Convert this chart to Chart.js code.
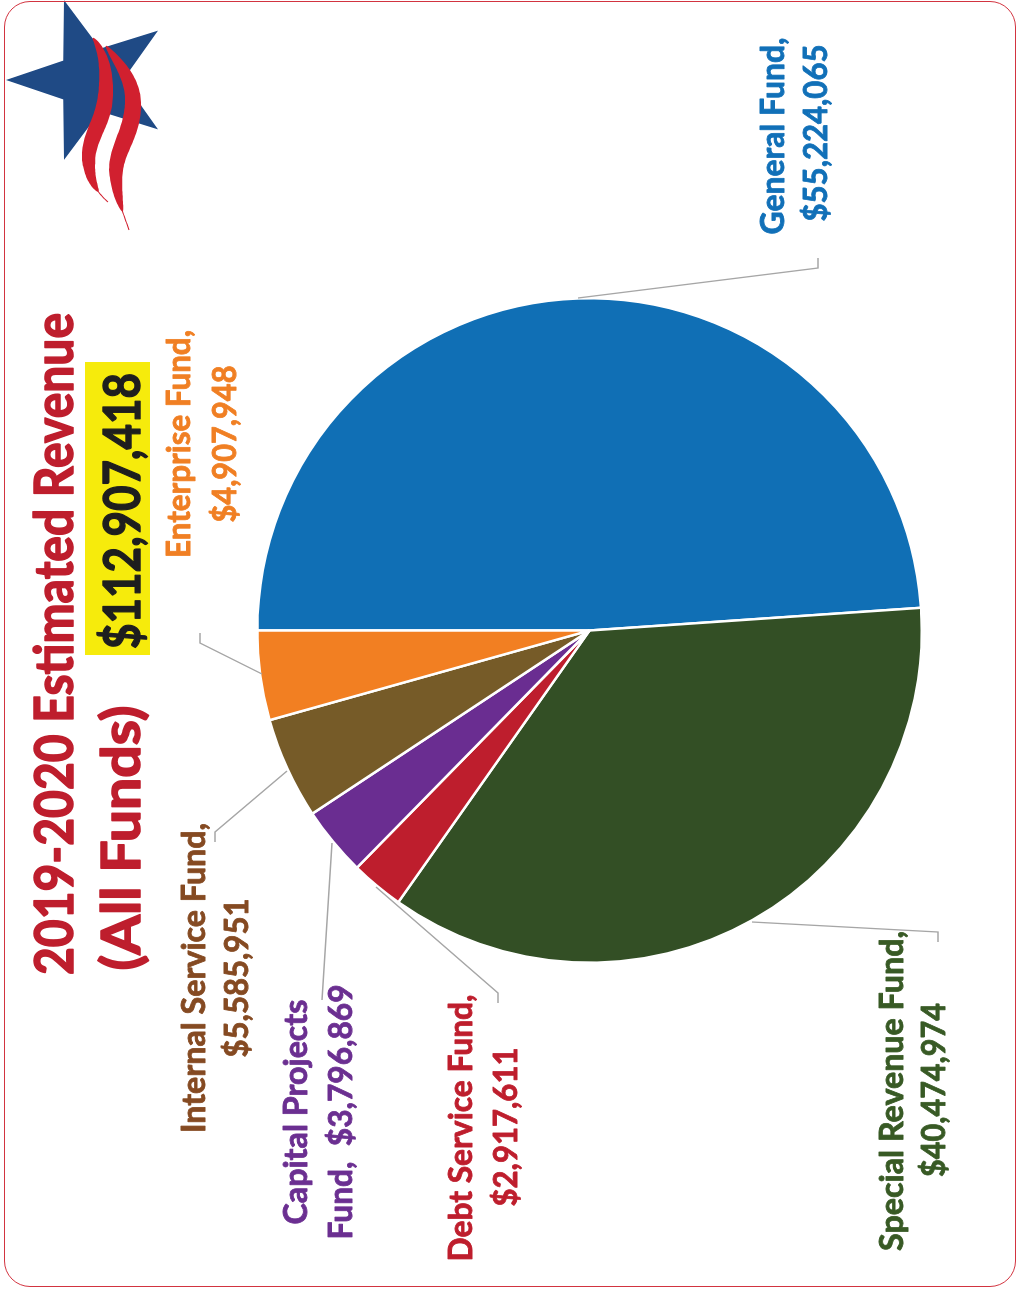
<!DOCTYPE html>
<html>
<head>
<meta charset="utf-8">
<script src="https://cdn.jsdelivr.net/npm/chart.js@4/dist/chart.umd.min.js"></script>
<style>
  html, body { margin: 0; padding: 0; background: #fff; }
  #page { position: relative; width: 1018px; height: 1290px; overflow: hidden; background: #fff; }
  #frame { position: absolute; left: 4px; top: 1px; width: 1010px; height: 1284px;
           border: 1.5px solid #d23440; border-radius: 26px; }
  /* the chart is laid out landscape and turned a quarter to the left */
  #stage { position: absolute; left: 0; top: 0; width: 1290px; height: 1018px;
           transform-origin: 0 0; transform: translate(0, 1290px) rotate(-90deg); }
</style>
</head>
<body>
<div id="page">
  <div id="stage"><canvas id="revenueChart" width="1290" height="1018"></canvas></div>
  <div id="frame"></div>
</div>
<script>
// === DADOS ===
const funds = ['General Fund', 'Special Revenue Fund', 'Debt Service Fund', 'Capital Projects Fund', 'Internal Service Fund', 'Enterprise Fund'];
const revenue = [55224065, 40474974, 2917611, 3796869, 5585951, 4907948];
const titleText = '2019-2020 Estimated Revenue';
const subtitleText = '(All Funds)';
const totalRevenue = 112907418;

const sliceColors = ['#106fb5', '#334f25', '#be1e2d', '#6a2d91', '#765b28', '#f27f22'];
const textColors  = ['#1170b8', '#385a25', '#be1e2d', '#6b2f91', '#854a22', '#f07f23'];

const money = v => '$' + v.toLocaleString('en-US');

// label lines per fund (text only)
const labelLines = [
    ['General Fund,', money(revenue[0])],
    ['Special Revenue Fund,', money(revenue[1])],
    ['Debt Service Fund,', money(revenue[2])],
    ['Capital Projects', 'Fund,  ' + money(revenue[3])],
    ['Internal Service Fund,', money(revenue[4])],
    ['Enterprise Fund,', money(revenue[5])]
];

// === LAYOUT (landscape coords) ===
const labelPos = [
    [{ x: 1154, y: 784, w: 197 }, { x: 1157, y: 827, w: 177 }],
    [{ x: 199, y: 903, w: 320 }, { x: 200, y: 945, w: 174 }],
    [{ x: 162, y: 472, w: 267 }, { x: 163, y: 517, w: 159 }],
    [{ x: 178, y: 307, w: 225 }, { x: 178, y: 352, w: 255 }],
    [{ x: 312, y: 205, w: 310 }, { x: 312, y: 248, w: 159 }],
    [{ x: 846, y: 190, w: 228 }, { x: 846, y: 236, w: 157 }]
];
const leaders = [
    [[992, 578], [1022, 818], [1032, 818]],
    [[368, 752], [358, 938], [348, 938]],
    [[403, 376], [297, 498], [287, 498]],
    [[447, 332], [290, 322]],
    [[519, 287], [458, 215], [448, 215]],
    [[616, 262], [647, 200], [657, 200]]
];

function fitText(ctx, text, cx, base, width, size, color, heavy) {
    ctx.font = `bold ${size}px Lato, "Open Sans", sans-serif`;
    const w = ctx.measureText(text).width;
    ctx.save();
    ctx.translate(cx, base);
    ctx.scale(width / w, 1);
    ctx.fillStyle = color;
    ctx.strokeStyle = color;
    ctx.lineWidth = heavy;
    ctx.lineJoin = 'round';
    ctx.textAlign = 'center';
    ctx.textBaseline = 'alphabetic';
    ctx.fillText(text, 0, 0);
    ctx.strokeText(text, 0, 0);
    ctx.restore();
}

// tapered ribbon along a cubic bezier chain
function ribbon(ctx, segs, maxW) {
    const pts = [];
    segs.forEach(s => {
        for (let k = 0; k <= 30; k++) {
            const t = k / 30, u = 1 - t;
            pts.push([
                u*u*u*s[0][0] + 3*u*u*t*s[1][0] + 3*u*t*t*s[2][0] + t*t*t*s[3][0],
                u*u*u*s[0][1] + 3*u*u*t*s[1][1] + 3*u*t*t*s[2][1] + t*t*t*s[3][1]
            ]);
        }
    });
    const left = [], right = [];
    pts.forEach((p, i) => {
        const a = pts[Math.max(0, i - 1)], b = pts[Math.min(pts.length - 1, i + 1)];
        let dx = b[0] - a[0], dy = b[1] - a[1];
        const len = Math.hypot(dx, dy) || 1;
        dx /= len; dy /= len;
        const f = i / (pts.length - 1);
        const w = maxW * Math.pow(Math.sin(Math.PI * Math.min(1, f * 1.15)), 0.7) / 2 + 0.5;
        left.push([p[0] - dy * w, p[1] + dx * w]);
        right.push([p[0] + dy * w, p[1] - dx * w]);
    });
    ctx.beginPath();
    left.forEach((p, i) => i ? ctx.lineTo(p[0], p[1]) : ctx.moveTo(p[0], p[1]));
    right.reverse().forEach(p => ctx.lineTo(p[0], p[1]));
    ctx.closePath();
    ctx.fill();
}

function drawLogo(ctx) {
    // drawn in portrait coords
    ctx.save();
    ctx.transform(0, 1, -1, 0, 1290, 0);
    const cx = 90, cy = 80, R = 84, r = 33;
    ctx.beginPath();
    for (let i = 0; i < 10; i++) {
        const a = Math.PI + i * Math.PI / 5;
        const rad = i % 2 === 0 ? R : r;
        const px = cx + rad * Math.cos(a), py = cy + rad * Math.sin(a);
        if (i === 0) ctx.moveTo(px, py); else ctx.lineTo(px, py);
    }
    ctx.closePath();
    ctx.fillStyle = '#1f4a85';
    ctx.fill();

    ctx.fillStyle = '#d1202f';
    ribbon(ctx, [
        [[93, 38], [104, 52], [108, 75], [105, 100]],
        [[105, 100], [102, 125], [86, 140], [89, 165]],
        [[89, 165], [91, 185], [100, 195], [108, 202]]
    ], 15);
    ribbon(ctx, [
        [[106, 46], [118, 62], [134, 80], [133, 105]],
        [[133, 105], [132, 135], [115, 150], [116, 175]],
        [[116, 175], [117, 200], [124, 215], [129, 230]]
    ], 16);
    ctx.restore();
}

const annotations = {
    id: 'annotations',
    afterDraw(chart) {
        const ctx = chart.ctx;
        drawLogo(ctx);

        // leader lines
        ctx.save();
        ctx.strokeStyle = '#a6a6a6';
        ctx.lineWidth = 1.3;
        leaders.forEach(pts => {
            ctx.beginPath();
            pts.forEach((p, i) => i ? ctx.lineTo(p[0], p[1]) : ctx.moveTo(p[0], p[1]));
            ctx.stroke();
        });
        ctx.restore();

        // titles
        fitText(ctx, titleText, 646, 73, 662, 53, '#be1e2d', 1.6);
        fitText(ctx, subtitleText, 452, 140, 265, 53, '#be1e2d', 1.6);
        ctx.fillStyle = '#f6eb0c';
        ctx.fillRect(635, 85, 293, 65);
        fitText(ctx, money(totalRevenue), 779, 140, 276, 52, '#1e1e1e', 1.4);

        // fund labels
        labelLines.forEach((lines, i) => {
            lines.forEach((t, j) => {
                const p = labelPos[i][j];
                fitText(ctx, t, p.x, p.y, p.w, 33, textColors[i], 0.8);
            });
        });
    }
};

new Chart(document.getElementById('revenueChart').getContext('2d'), {
    type: 'pie',
    data: {
        labels: funds,
        datasets: [{
            data: revenue,
            backgroundColor: sliceColors,
            borderColor: '#ffffff',
            borderWidth: 2.5
        }]
    },
    options: {
        responsive: false,
        animation: false,
        layout: { padding: { left: 326, right: 297, top: 256, bottom: 95 } },
        plugins: { legend: { display: false }, tooltip: { enabled: false } }
    },
    plugins: [annotations]
});
</script>
</body>
</html>
